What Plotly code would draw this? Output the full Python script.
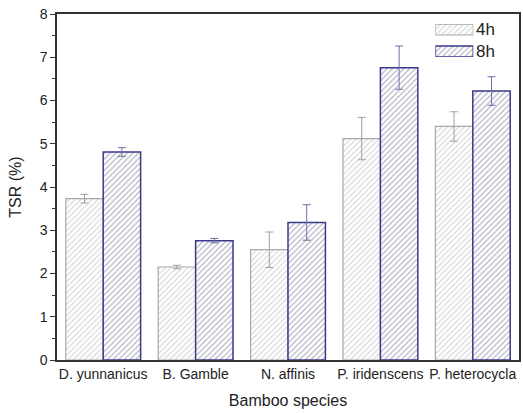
import plotly.graph_objects as go

species = ["D. yunnanicus", "B. Gamble", "N. affinis", "P. iridenscens", "P. heterocycla"]
tsr_4h = [3.73, 2.15, 2.55, 5.12, 5.40]
err_4h = [0.10, 0.04, 0.41, 0.49, 0.34]
tsr_8h = [4.81, 2.76, 3.18, 6.76, 6.22]
err_8h = [0.10, 0.05, 0.41, 0.50, 0.33]
series_names = ["4h", "8h"]

style_4h = dict(color="white", line=dict(color="#a8a8a8", width=1.2),
                pattern=dict(shape="/", fgcolor="#a0a0a0", bgcolor="white", size=4, solidity=0.25))
style_8h = dict(color="white", line=dict(color="#3a3a8c", width=1.5),
                pattern=dict(shape="/", fgcolor="#6a6a8a", bgcolor="white", size=4, solidity=0.3))

fig = go.Figure()
fig.add_trace(go.Bar(
    x=species, y=tsr_4h, name=series_names[0], marker=style_4h,
    error_y=dict(type="data", array=err_4h, color="#a0a0a0", thickness=1, width=4),
))
fig.add_trace(go.Bar(
    x=species, y=tsr_8h, name=series_names[1], marker=style_8h,
    error_y=dict(type="data", array=err_8h, color="#7070a8", thickness=1, width=4),
))

# legend drawn as a small inset of horizontal swatch bars
fig.add_trace(go.Bar(y=[series_names[0]], x=[1], orientation="h", marker=style_4h,
                     xaxis="x2", yaxis="y2", hoverinfo="skip", width=0.5, offset=-0.25))
fig.add_trace(go.Bar(y=[series_names[1]], x=[1], orientation="h", marker=style_8h,
                     xaxis="x2", yaxis="y2", hoverinfo="skip", width=0.5, offset=-0.25))
for name in series_names:
    fig.add_annotation(text=name, xref="x2 domain", yref="y2", x=1, y=name,
                       xanchor="left", yanchor="middle", xshift=1, showarrow=False,
                       font=dict(size=17, color="#222"))

fig.update_layout(
    width=523, height=413,
    margin=dict(l=57, r=2, t=14, b=53),
    paper_bgcolor="white", plot_bgcolor="white",
    barmode="group", bargap=0.19, bargroupgap=0,
    font=dict(family="Liberation Sans, Arial, sans-serif", size=14, color="#222"),
    showlegend=False,
    xaxis=dict(title=dict(text="Bamboo species", font=dict(size=16), standoff=14),
               showline=True, linecolor="#333", linewidth=1.5, mirror=True,
               ticks="", showgrid=False, tickfont=dict(size=14)),
    yaxis=dict(title=dict(text="TSR (%)", font=dict(size=16), standoff=14),
               range=[0, 8], dtick=1, showline=True, linecolor="#333", linewidth=1.5,
               mirror=True, ticks="outside", ticklen=5, tickcolor="#333", showgrid=False,
               zeroline=False, tickfont=dict(size=14),
               minor=dict(dtick=0.5, ticks="outside", ticklen=3, tickcolor="#333")),
    xaxis2=dict(domain=[0.819, 0.901], anchor="y2", range=[0, 1], visible=False, fixedrange=True),
    yaxis2=dict(domain=[0.876, 0.971], anchor="x2", type="category",
                categoryorder="array", categoryarray=[series_names[1], series_names[0]],
                range=[-0.25, 1.25], visible=False, fixedrange=True),
)

fig.write_html("out.html", config={"displayModeBar": False},
               post_script="document.body.style.margin='0px';")
